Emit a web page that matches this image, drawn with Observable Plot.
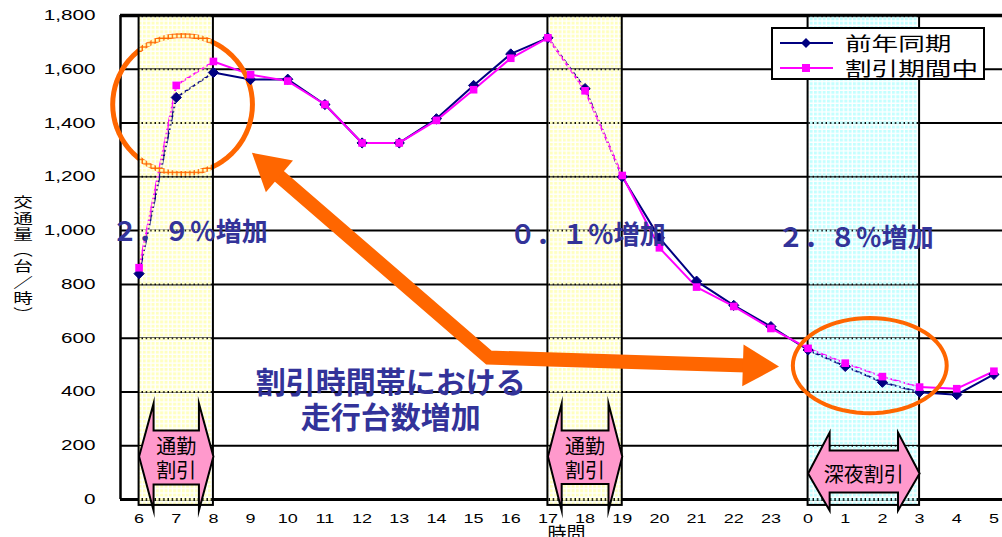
<!DOCTYPE html>
<html><head><meta charset="utf-8">
<script src="https://cdn.jsdelivr.net/npm/d3@7"></script>
<script src="https://cdn.jsdelivr.net/npm/@observablehq/plot@0.6"></script>
<style>
html,body{margin:0;padding:0;overflow:hidden;background:#fff;}
#wrap{position:relative;width:1002px;height:537px;overflow:hidden;}
#chart svg{max-width:none !important;}
#ytitle{position:absolute;left:16px;top:195px;writing-mode:vertical-rl;font-family:"Noto Sans CJK JP";font-size:14px;line-height:14px;letter-spacing:2px;transform:scaleX(1.4);transform-origin:center;color:#000;}
#legend{position:absolute;left:771px;top:27px;width:210px;height:49px;border:2px solid #000;background:#fff;}
#legend .lt{position:absolute;left:72px;font-family:"Noto Sans CJK JP";font-size:19px;line-height:19px;transform:scaleX(1.4);transform-origin:left center;white-space:nowrap;color:#000;}
</style></head><body>
<div id="wrap"><div id="chart"></div><div id="ytitle">交通量（台／時）</div><div id="legend"></div></div>
<script>
// ---- data ----
const hours = ["6","7","8","9","10","11","12","13","14","15","16","17","18","19","20","21","22","23","0","1","2","3","4","5"];
const prevYear = [840,1495,1588,1562,1563,1469,1326,1326,1416,1540,1657,1717,1528,1200,973,812,722,643,556,495,436,399,390,465];
const discount = [862,1540,1629,1580,1556,1469,1326,1326,1410,1524,1641,1717,1520,1205,936,790,718,636,562,507,457,418,412,477];
const seriesNames = ["前年同期","割引期間中"];
const seriesColors = ["#000080","#ff00ff"];
const yTicks = [0,200,400,600,800,1000,1200,1400,1600,1800];
// discount time bands (hour index from/to)
const bands = [{from:0,to:2,kind:"commute",label:["通勤","割引"]},{from:11,to:13,kind:"commute",label:["通勤","割引"]},{from:18,to:21,kind:"night",label:["深夜割引"]}];
// annotation texts
const pctLabels = ["２．９％増加","０．１％増加","２．８％増加"];
const pctAt = [[1.36,993],[12.07,982],[19.28,971]];
const noteLines = ["割引時間帯における","走行台数増加"];
const noteAt = [[6.77,431],[6.77,301]];
// annotation shapes (hour index, value units)
const pinkArrows = [
  {x1:0,x2:2,head:0.39,tip:160,headTop:357,headBot:-41,bodyTop:257,bodyBot:56},
  {x1:11,x2:13,head:0.37,tip:160,headTop:357,headBot:-41,bodyTop:257,bodyBot:58},
  {x1:18,x2:21,head:0.58,tip:97,headTop:249,headBot:-41,bodyTop:182,bodyBot:26}
];
const ellipses = [{id:"e1",cx:1.17,cy:1469,rx:1.88,ry:257,w:5},{id:"e2",cx:19.66,cy:498,rx:2.07,ry:177,w:4}];
const orangeBody = [{x:3.53,y:1231},{x:9.41,y:528},{x:16.57,y:497}];
const orangeHeads = [{x:3.53,y:1231,rot:-49.5},{x:16.57,y:497,rot:91.8}];

// ---- build ----
const prevRows = prevYear.map((v,i)=>({i,v}));
const discRows = discount.map((v,i)=>({i,v}));
const pinkPts = pinkArrows.flatMap((a,k)=>{
  const L=a.x1, R=a.x2, hl=a.x1+a.head, hr=a.x2-a.head;
  const p=[[L,a.tip],[hl,a.headTop],[hl,a.bodyTop],[hr,a.bodyTop],[hr,a.headTop],[R,a.tip],[hr,a.headBot],[hr,a.bodyBot],[hl,a.bodyBot],[hl,a.headBot],[L,a.tip]];
  return p.map(([x,y])=>({id:k,x,y}));
});
const bandTexts = bands.flatMap(b=>{
  const cx=(b.from+b.to)/2;
  if (b.label.length===2) return [{x:cx,y:192,t:b.label[0]},{x:cx,y:102,t:b.label[1]}];
  return [{x:cx,y:89,t:b.label[0]}];
});
const ellPts = ellipses.flatMap(e=>d3.range(0,73).map(k=>{const t=k/72*2*Math.PI;return {id:e.id,w:e.w,x:e.cx+e.rx*Math.cos(t),y:e.cy+e.ry*Math.sin(t)};}));
const pctRows = pctLabels.map((t,k)=>({t,x:pctAt[k][0],y:pctAt[k][1]}));
const noteRows = noteLines.map((t,k)=>({t,x:noteAt[k][0],y:noteAt[k][1]}));

const svg = Plot.plot({
  width:1012, height:537,
  marginLeft:120, marginRight:0, marginTop:15, marginBottom:38,
  x:{domain:[-0.5,23.5]},
  y:{domain:[0,1800]},
  style:{fontFamily:"Liberation Sans", fontSize:"14px", color:"#000", background:"#fff", overflow:"visible", maxWidth:"none"},
  marks:[
    Plot.ruleY(yTicks.filter(d=>d>0&&d<1800),{stroke:"#000",strokeWidth:2}),
    Plot.ruleY([0],{stroke:"#000",strokeWidth:3}),
    Plot.ruleY([1800],{stroke:"#000",strokeWidth:3.5}),
    Plot.ruleX([-0.5],{y1:0,y2:1800,stroke:"#000",strokeWidth:2.5}),
    Plot.line(prevRows,{x:"i",y:"v",stroke:seriesColors[0],strokeWidth:2}),
    Plot.line(discRows,{x:"i",y:"v",stroke:seriesColors[1],strokeWidth:2}),
    Plot.line(ellPts.filter(d=>d.id==="e1"),{x:"x",y:"y",stroke:"#ff6600",strokeWidth:5}),
    Plot.rect(bands.filter(b=>b.kind==="commute"),{x1:"from",x2:"to",y1:()=>-22,y2:()=>1800,fill:"url(#dotY)"}),
    Plot.rect(bands.filter(b=>b.kind==="night"),{x1:"from",x2:"to",y1:()=>-22,y2:()=>1800,fill:"url(#dotC)"}),
    Plot.rect(bands,{x1:"from",x2:"to",y1:()=>-22,y2:()=>1800,fill:"none",stroke:"#000",strokeWidth:2}),
    Plot.dot(prevRows,{x:"i",y:"v",symbol:"diamond2",r:4.6,fill:seriesColors[0],stroke:seriesColors[0],strokeWidth:1}),
    Plot.dot(discRows,{x:"i",y:"v",symbol:"square",r:4.3,fill:seriesColors[1]}),
    Plot.line(ellPts.filter(d=>d.id==="e2"),{x:"x",y:"y",stroke:"#ff6600",strokeWidth:4}),
    Plot.line(orangeBody,{x:"x",y:"y",stroke:"#ff6600",strokeWidth:14,strokeLinejoin:"miter",strokeLinecap:"butt",strokeMiterlimit:10}),
    Plot.dot(orangeHeads,{x:"x",y:"y",rotate:"rot",symbol:"triangle",r:15.5,fill:"#ff6600",stroke:"none"}),
    Plot.line(pinkPts,{x:"x",y:"y",z:"id",fill:"#ff99cc",stroke:"#000",strokeWidth:2,strokeLinejoin:"miter",strokeMiterlimit:10}),
    Plot.text(bandTexts,{x:"x",y:"y",text:"t",fontFamily:"Noto Sans CJK JP",fontSize:20,fill:"#000"}),
    Plot.text(pctRows,{x:"x",y:"y",text:"t",fontFamily:"Noto Sans CJK JP",fontSize:26,fontWeight:"bold",fill:"#333399"}),
    Plot.text(noteRows,{x:"x",y:"y",text:"t",fontFamily:"Noto Sans CJK JP",fontSize:30,fontWeight:"bold",fill:"#333399"}),
    Plot.text(["時間"],{x:()=>11.5,y:()=>-130,text:d=>d,fontFamily:"Noto Sans CJK JP",fontSize:19,fill:"#000"}),
    Plot.axisX(d3.range(24),{tickSize:0,tickPadding:15,tickFormat:i=>hours[i],fontSize:12,label:null}),
    Plot.axisY(yTicks,{tickSize:0,tickPadding:25,tickFormat:d3.format(","),fontSize:14,label:null})
  ]
});
svg.style.maxWidth = "none";
svg.setAttribute("width", 1012);

// dotted band patterns
const defs = d3.select(svg).insert("defs",":first-child");
function pat(id,color){
  const p = defs.append("pattern").attr("id",id).attr("patternUnits","userSpaceOnUse").attr("width",4.33).attr("height",4.33);
  p.append("rect").attr("width",3).attr("height",3).attr("fill",color);
}
pat("dotY","#ffffc0");
pat("dotC","#c4ffff");

// horizontally stretched tick labels
function stretch(sel,s){
  svg.querySelectorAll(sel).forEach(t=>{
    const tr=t.getAttribute("transform");
    if (tr) t.setAttribute("transform",tr+` scale(${s},1)`);
    else { const x=+t.getAttribute("x")||0; t.setAttribute("transform",`translate(${x},0) scale(${s},1) translate(${-x},0)`); }
  });
}
stretch('g[aria-label="y-axis tick label"] text',1.48);
stretch('g[aria-label="x-axis tick label"] text',1.5);

document.getElementById("chart").appendChild(svg);

// legend
const lg = document.getElementById("legend");
lg.innerHTML = `<svg width="210" height="49" style="position:absolute;left:0;top:0">
<line x1="7" y1="14" x2="60" y2="14" stroke="${seriesColors[0]}" stroke-width="2"/>
<path d="M33,9 L38,14 L33,19 L28,14 Z" fill="${seriesColors[0]}"/>
<line x1="7" y1="39" x2="60" y2="39" stroke="${seriesColors[1]}" stroke-width="2"/>
<rect x="29" y="35" width="8" height="8" fill="${seriesColors[1]}"/>
</svg>
<div class="lt" style="top:4px">${seriesNames[0]}</div>
<div class="lt" style="top:29px">${seriesNames[1]}</div>`;
</script>
</body></html>
